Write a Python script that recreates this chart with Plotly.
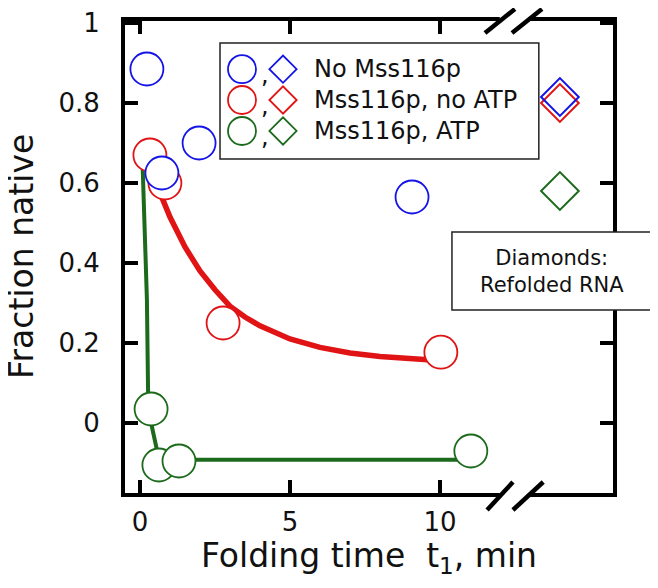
import plotly.graph_objects as go

# ── data ─────────────────────────────────────────────────────────────
# open circles: fraction native vs folding time t1 (min)
blue_t = [0.23, 0.73, 1.97, 9.07]
blue_y = [0.885, 0.625, 0.70, 0.565]

red_t = [0.33, 0.83, 2.77, 10.03]
red_y = [0.67, 0.60, 0.25, 0.177]

green_t = [0.37, 0.63, 1.3, 11.03]
green_y = [0.035, -0.105, -0.095, -0.07]

# diamonds: refolded RNA (plotted past the axis break)
refold_t = 14.0
refold_blue = 0.815
refold_red = 0.80
refold_green = 0.58

# fitted curves
red_fit_t = [0.73, 1.0, 1.5, 2.0, 2.5, 3.0, 3.5, 4.0, 5.0, 6.0, 7.0, 8.0, 9.6]
red_fit_y = [0.564, 0.515, 0.44, 0.38, 0.333, 0.292, 0.265, 0.243, 0.21, 0.189, 0.175, 0.166, 0.158]

green_fit_t = [0.08, 0.16, 0.23, 0.27, 0.33, 0.40, 0.50, 0.60, 0.75, 1.0, 10.6]
green_fit_y = [0.66, 0.48, 0.31, 0.075, 0.02, -0.01, -0.05, -0.08, -0.09, -0.092, -0.092]

y_ticks = [0, 0.2, 0.4, 0.6, 0.8, 1]
y_ticktext = ["0", "0.2", "0.4", "0.6", "0.8", "1"]
x_ticks = [0, 5, 10]

legend_labels = ["No Mss116p", "Mss116p, no ATP", "Mss116p, ATP"]

BLUE = "#1414e6"
RED = "#e01414"
GREEN = "#1c6a1c"
FONT = "DejaVu Sans"

fig = go.Figure()

# fit lines first so the white-filled circles sit on top
fig.add_trace(go.Scatter(x=green_fit_t, y=green_fit_y, mode="lines",
                         line=dict(color=GREEN, width=4)))
fig.add_trace(go.Scatter(x=red_fit_t, y=red_fit_y, mode="lines",
                         line=dict(color=RED, width=5.5)))

circle = dict(symbol="circle", size=33, color="white")
for t, y, c in [(green_t, green_y, GREEN), (red_t, red_y, RED), (blue_t, blue_y, BLUE)]:
    fig.add_trace(go.Scatter(x=t, y=y, mode="markers", cliponaxis=False,
                             marker=dict(circle, line=dict(color=c, width=1.8))))

for y, c in [(refold_red, RED), (refold_blue, BLUE), (refold_green, GREEN)]:
    fig.add_trace(go.Scatter(x=[refold_t], y=[y], mode="markers",
                             marker=dict(symbol="diamond", size=29, color="rgba(0,0,0,0)",
                                         line=dict(color=c, width=2))))

# ── hand-made legend (circle , diamond  label) on a paper-like overlay axis
rows_y = [0.898, 0.8326, 0.767]
colors = [BLUE, RED, GREEN]
fig.add_trace(go.Scatter(x=[0.2398] * 3, y=rows_y, mode="markers", xaxis="x2", yaxis="y2",
                         marker=dict(symbol="circle", size=28, color="white",
                                     line=dict(color=colors, width=1.8))))
fig.add_trace(go.Scatter(x=[0.3238] * 3, y=rows_y, mode="markers", xaxis="x2", yaxis="y2",
                         marker=dict(symbol="diamond", size=21, color="white",
                                     line=dict(color=colors, width=1.8))))

annotations = []
for y, lab in zip(rows_y, legend_labels):
    annotations.append(dict(x=0.287, y=y - 0.012, xref="paper", yref="paper", text=",",
                            xanchor="center", yanchor="middle", showarrow=False,
                            font=dict(size=24, color="#111", family=FONT)))
    annotations.append(dict(x=0.383, y=y, xref="paper", yref="paper", text=lab,
                            xanchor="left", yanchor="middle", showarrow=False,
                            font=dict(size=24, color="#111", family=FONT)))

annotations.append(dict(x=0.875, y=0.47, xref="paper", yref="paper",
                        text="Diamonds:<br>Refolded RNA", showarrow=False, align="center",
                        xanchor="center", yanchor="middle",
                        font=dict(size=21, color="#111", family=FONT)))
annotations.append(dict(x=0.5, y=-0.1377, xref="paper", yref="paper",
                        text="Folding time\u00a0 t<sub>1</sub>, min", showarrow=False,
                        xanchor="center", yanchor="middle",
                        font=dict(size=33, color="#111", family=FONT)))
annotations.append(dict(x=-0.213, y=0.5, xref="paper", yref="paper",
                        text="Fraction native", textangle=-90, showarrow=False,
                        xanchor="center", yanchor="middle",
                        font=dict(size=33, color="#111", family=FONT)))

shapes = [
    # legend frame
    dict(type="rect", xref="paper", yref="paper", x0=0.1947, x1=0.848, y0=0.7076, y1=0.9534,
         line=dict(color="#222", width=1.5), fillcolor="white", layer="below"),
    # "Diamonds" note, drawn over the right axis
    dict(type="rect", xref="paper", yref="paper", x0=0.670, x1=1.080, y0=0.3877, y1=0.553,
         line=dict(color="#222", width=1.5), fillcolor="white", layer="above"),
    # axis break: white gaps, then slashes
    dict(type="line", xref="paper", yref="paper", x0=0.768, x1=0.826, y0=1.004, y1=1.004,
         line=dict(color="white", width=7), layer="above"),
    dict(type="line", xref="paper", yref="paper", x0=0.768, x1=0.826, y0=-0.004, y1=-0.004,
         line=dict(color="white", width=7), layer="above"),
]
for x0, x1 in [(0.7377, 0.799), (0.793, 0.8545)]:
    shapes.append(dict(type="line", xref="paper", yref="paper", x0=x0, x1=x1,
                       y0=0.9746, y1=1.0254, line=dict(color="black", width=4.5), layer="above"))
for x0, x1 in [(0.742, 0.795), (0.795, 0.857)]:
    shapes.append(dict(type="line", xref="paper", yref="paper", x0=x0, x1=x1,
                       y0=-0.036, y1=0.0233, line=dict(color="black", width=4.5), layer="above"))

axis_common = dict(showline=True, linecolor="black", linewidth=4, mirror="ticks",
                   ticks="inside", ticklen=13, tickwidth=4, tickcolor="black",
                   showgrid=False, zeroline=False, automargin=False,
                   tickfont=dict(size=26, color="#111", family=FONT))

# the page body adds an 8px margin, so the figure is 8px smaller and shifted margins
fig.update_layout(
    width=650, height=580,
    margin=dict(l=117, r=45, t=13, b=95),
    paper_bgcolor="white", plot_bgcolor="white",
    showlegend=False,
    xaxis=dict(axis_common, range=[-0.5, 15.77], tickvals=x_ticks, ticklabelstandoff=3),
    yaxis=dict(axis_common, range=[-0.175, 1.005], tickvals=y_ticks, ticktext=y_ticktext,
               ticklabelstandoff=16),
    xaxis2=dict(overlaying="x", range=[0, 1], visible=False),
    yaxis2=dict(overlaying="y", range=[0, 1], visible=False),
    shapes=shapes,
    annotations=annotations,
)

fig.write_html("out.html")
